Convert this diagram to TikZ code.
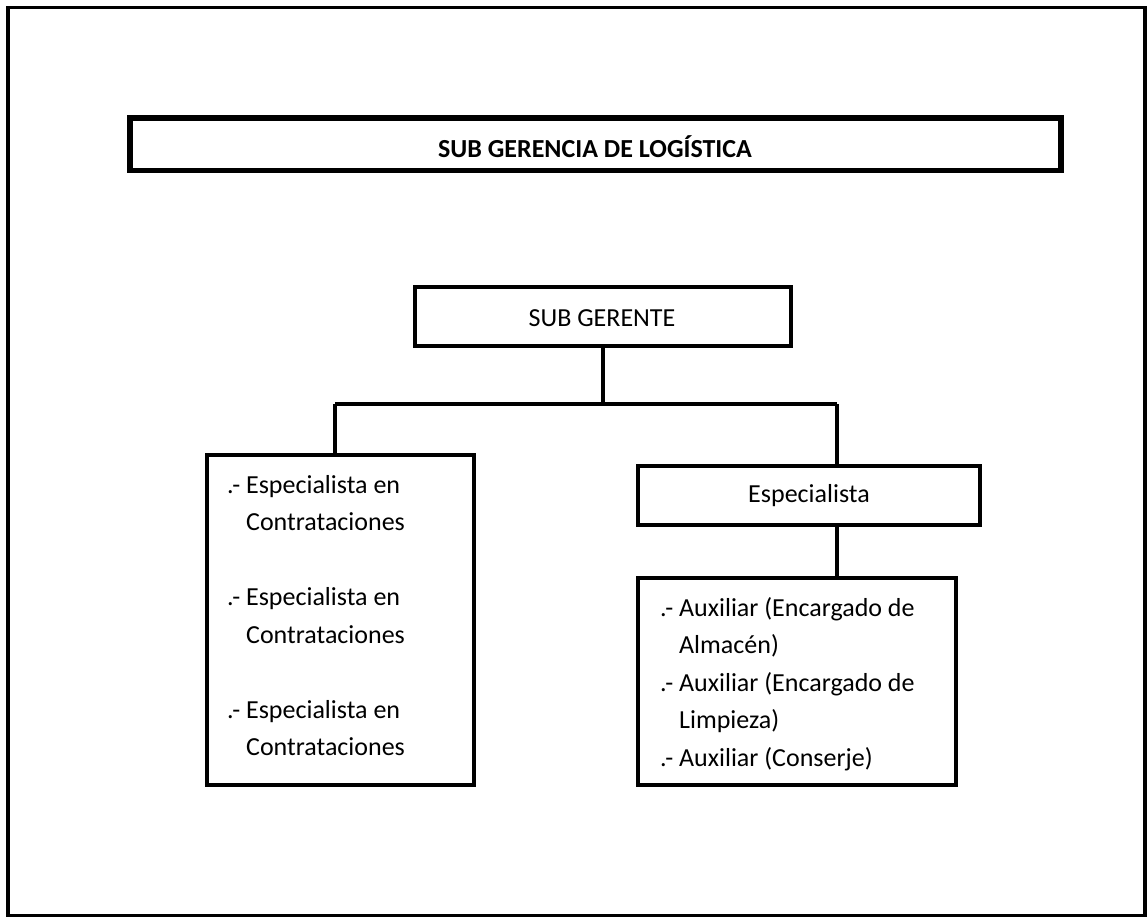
\documentclass[tikz,border=0pt]{standalone}
\usepackage{fontspec}
\setmainfont{Carlito}
\begin{document}
\begin{tikzpicture}[x=1pt,y=-1pt,
  thinbox/.style={draw,line width=3.5pt},
  thickbox/.style={draw,line width=5.5pt},
  conn/.style={line width=3.5pt},
  txt/.style={font=\fontsize{26}{37.5}\selectfont,inner sep=0pt}]
\useasboundingbox (0,0) rectangle (1147,918);
% outer frame
\draw[line width=3.5pt] (8,7.5) rectangle (1145,915.5);
% title
\draw[thickbox] (130,118) rectangle (1061,170.5);
\node[txt,font=\fontsize{26}{30}\selectfont\bfseries] (title) at (595,147) {SUB GERENCIA DE LOGÍSTICA};
% sub gerente
\draw[thinbox] (415,287) rectangle (791,346);
\node[txt] (sg) at (602,318) {SUB GERENTE};
\coordinate (sgb) at (603,346);
% left box
\draw[thinbox] (207,455) rectangle (474,785);
\node[txt,anchor=north west,align=left] (lb) at (227,475) {.- Especialista en\\\phantom{.- }Contrataciones\\[37.5pt].- Especialista en\\\phantom{.- }Contrataciones\\[37.5pt].- Especialista en\\\phantom{.- }Contrataciones};
% especialista
\draw[thinbox] (638,466) rectangle (980,525);
\node[txt] (esp) at (809,496) {Especialista};
% right bottom box
\draw[thinbox] (638,578) rectangle (956,785);
\node[txt,anchor=north west,align=left] (rb) at (660,597) {.- Auxiliar (Encargado de\\\phantom{.- }Almacén)\\.- Auxiliar (Encargado de\\\phantom{.- }Limpieza)\\.- Auxiliar (Conserje)};
% connectors
\coordinate (j1) at (603,404);
\coordinate (jl) at (335,404);
\coordinate (jr) at (837,404);
\draw[conn] (sgb) -- (j1);
\draw[conn] (jl) -- (jr);
\draw[conn] (jl) -- (335,455);
\draw[conn] (jr) -- (837,466);
\draw[conn] (837,525) -- (837,578);
\end{tikzpicture}
\end{document}
